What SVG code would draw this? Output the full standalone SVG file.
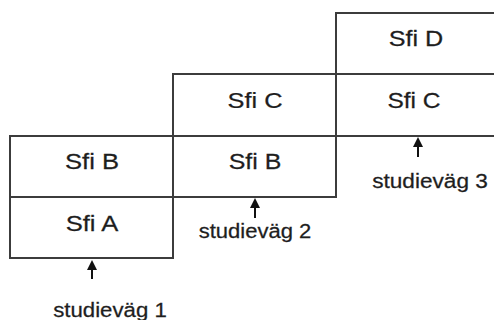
<svg xmlns="http://www.w3.org/2000/svg" width="494" height="320" viewBox="0 0 494 320">
<style>
.cell{fill:#ffffff;stroke:#3c3c3c;stroke-width:2}
.lbl{font-family:"Liberation Sans",Arial,sans-serif;font-size:21.5px;fill:#1e1e1e;stroke:#1e1e1e;stroke-width:0.25;text-anchor:middle}
.path{font-family:"Liberation Sans",Arial,sans-serif;font-size:19.5px;fill:#1e1e1e;stroke:#1e1e1e;stroke-width:0.25;text-anchor:middle}
.arr{stroke:#111111;stroke-width:2;fill:none}
.head{fill:#111111}
</style>
<rect width="494" height="320" fill="#ffffff"/>
<g id="sfiD3"><rect class="cell" x="336" y="13" width="170" height="61"/><text class="lbl" transform="translate(416,46) scale(1.17,1)">Sfi D</text></g>
<g id="sfiC3"><rect class="cell" x="336" y="74" width="170" height="62"/><text class="lbl" transform="translate(414,108) scale(1.14,1)">Sfi C</text></g>
<g id="sfiC2"><rect class="cell" x="173" y="74" width="163" height="62"/><text class="lbl" transform="translate(255,108) scale(1.18,1)">Sfi C</text></g>
<g id="sfiB2"><rect class="cell" x="173" y="136" width="163" height="61"/><text class="lbl" transform="translate(255,169) scale(1.16,1)">Sfi B</text></g>
<g id="sfiB1"><rect class="cell" x="10" y="136" width="163" height="61"/><text class="lbl" transform="translate(92,169) scale(1.19,1)">Sfi B</text></g>
<g id="sfiA1"><rect class="cell" x="10" y="197" width="163" height="61"/><text class="lbl" transform="translate(92,231) scale(1.19,1)">Sfi A</text></g>
<g id="connectors">
<line class="arr" x1="92" y1="279" x2="92" y2="268"/><polygon class="head" points="92,260 87,270 97,270"/>
<line class="arr" x1="255" y1="218" x2="255" y2="206"/><polygon class="head" points="255,198 250,208 260,208"/>
<line class="arr" x1="418" y1="157" x2="418" y2="145"/><polygon class="head" points="418,137 413,147 423,147"/>
</g>
<g id="labels">
<text class="path" transform="translate(110,317) scale(1.14,1)">studieväg 1</text>
<text class="path" transform="translate(255,238) scale(1.13,1)">studieväg 2</text>
<text class="path" transform="translate(430,188) scale(1.16,1)">studieväg 3</text>
</g>
</svg>
